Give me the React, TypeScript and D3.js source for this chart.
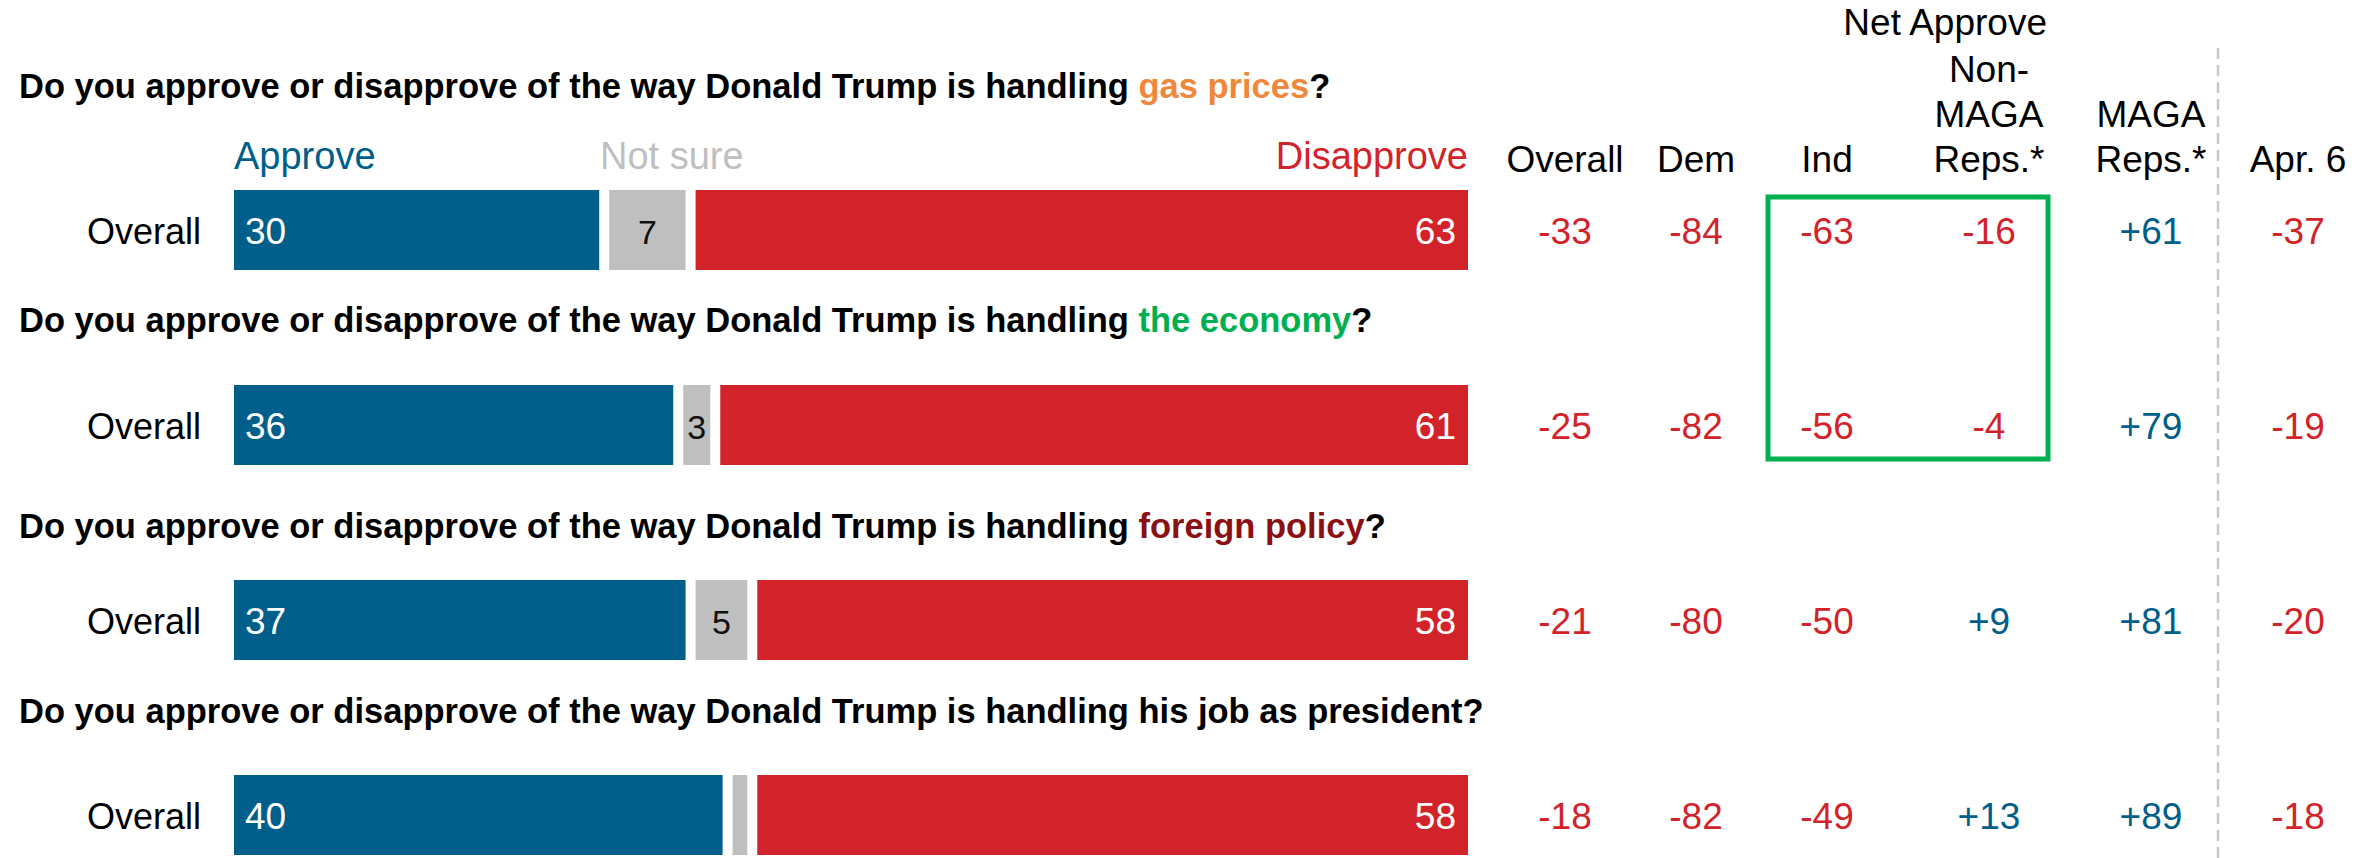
import * as d3 from 'd3';

// ── data ──────────────────────────────────────────────────────────────
const ROWS = ['gas', 'economy', 'foreign', 'job'];
const QUESTION_PREFIX = 'Do you approve or disapprove of the way Donald Trump is handling ';
const TOPICS = ['gas prices', 'the economy', 'foreign policy', 'his job as president'];
const TOPIC_COLORS = ['#f0883c', '#00b050', '#8b1014', '#000000'];
const ROW_LABELS = ['Overall', 'Overall', 'Overall', 'Overall'];

const APPROVE = [30, 36, 37, 40];
const NOT_SURE = [7, 3, 5, 2];
const DISAPPROVE = [63, 61, 58, 58];

const NET_OVERALL = [-33, -25, -21, -18];
const NET_DEM = [-84, -82, -80, -82];
const NET_IND = [-63, -56, -50, -49];
const NET_NON_MAGA = [-16, -4, 9, 13];
const NET_MAGA = [61, 79, 81, 89];
const NET_APR6 = [-37, -19, -20, -18];

const NET_COLUMNS = [NET_OVERALL, NET_DEM, NET_IND, NET_NON_MAGA, NET_MAGA, NET_APR6];
const NET_HEADERS = [['Overall'], ['Dem'], ['Ind'], ['Non-', 'MAGA', 'Reps.*'], ['MAGA', 'Reps.*'], ['Apr. 6']];

// ── layout ────────────────────────────────────────────────────────────
const W = 2371;
const H = 858;
const FONT = '"Liberation Sans", Arial, sans-serif';
const BLUE = '#005e8a';
const RED = '#d3232a';
const GREY = '#bfbfbf';
const COL_X = [1565, 1696, 1827, 1989, 2151, 2298];
const QUESTION_Y = [98, 332, 538, 723];
const BAR_H = 80;
const GAP = 5;

const x = d3.scaleLinear().domain([0, 100]).range([234, 1468]);
const y = d3.scalePoint<string>().domain(ROWS).range([230, 815]);

const fmt = (v: number) => (v > 0 ? `+${v}` : `${v}`);

export default function App() {
  return (
    <svg
      width={W}
      height={H}
      style={{ position: 'absolute', left: 0, top: 0, display: 'block', background: '#fff' }}
      fontFamily={FONT}
    >
      {/* bar headers */}
      <text x={x(0)} y={169} fontSize={38} fill={BLUE}>Approve</text>
      <text x={600} y={169} fontSize={38} fill={GREY}>Not sure</text>
      <text x={x(100)} y={169} fontSize={38} fill={RED} textAnchor="end">Disapprove</text>

      {/* net approve headers */}
      <text x={2047} y={35} fontSize={37} textAnchor="end">Net Approve</text>
      {NET_HEADERS.map((lines, ci) =>
        lines.map((ln, li) => (
          <text
            key={`h${ci}-${li}`}
            x={COL_X[ci]}
            y={172 - (lines.length - 1 - li) * 45}
            fontSize={37}
            textAnchor="middle"
          >
            {ln}
          </text>
        )),
      )}

      {/* divider before Apr. 6 */}
      <line x1={2218} x2={2218} y1={48} y2={H} stroke="#c8c8c8" strokeWidth={2.5} strokeDasharray="11 6" />

      {/* highlight box */}
      <rect x={1768} y={197} width={280} height={262} fill="none" stroke="#00b050" strokeWidth={5} />

      {ROWS.map((r, i) => {
        const cy = y(r)!;
        const a = APPROVE[i];
        const n = NOT_SURE[i];
        const d = DISAPPROVE[i];
        const baseline = cy + 13.5;
        return (
          <g key={r}>
            <text x={19} y={QUESTION_Y[i]} fontSize={34.5} fontWeight="bold" fill="#000">
              {QUESTION_PREFIX}
              <tspan fill={TOPIC_COLORS[i]}>{TOPICS[i]}</tspan>
              ?
            </text>
            <text x={201} y={baseline} fontSize={36} textAnchor="end" fill="#000">
              {ROW_LABELS[i]}
            </text>
            <rect x={x(0)} y={cy - BAR_H / 2} width={x(a) - x(0) - GAP} height={BAR_H} fill={BLUE} />
            <rect x={x(a) + GAP} y={cy - BAR_H / 2} width={x(a + n) - x(a) - 2 * GAP} height={BAR_H} fill={GREY} />
            <rect x={x(a + n) + GAP} y={cy - BAR_H / 2} width={x(100) - x(a + n) - GAP} height={BAR_H} fill={RED} />
            <text x={x(0) + 11} y={baseline} fontSize={37} fill="#fff">{a}</text>
            {n >= 3 && (
              <text x={(x(a) + x(a + n)) / 2} y={baseline} fontSize={34} fill="#111" textAnchor="middle">
                {n}
              </text>
            )}
            <text x={x(100) - 12} y={baseline} fontSize={37} fill="#fff" textAnchor="end">{d}</text>
            {NET_COLUMNS.map((col, ci) => (
              <text
                key={ci}
                x={COL_X[ci]}
                y={baseline}
                fontSize={37}
                textAnchor="middle"
                fill={col[i] > 0 ? BLUE : RED}
              >
                {fmt(col[i])}
              </text>
            ))}
          </g>
        );
      })}
    </svg>
  );
}
